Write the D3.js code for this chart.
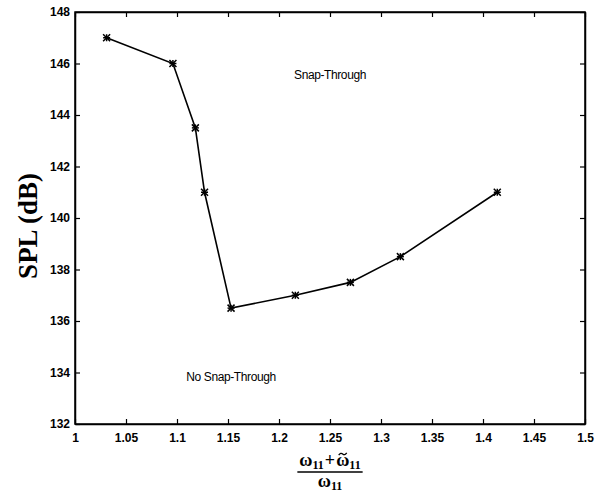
<!DOCTYPE html>
<html><head><meta charset="utf-8">
<script src="https://cdn.jsdelivr.net/npm/d3@7"></script>
<style>body{margin:0;background:#fff}svg{display:block}</style>
</head><body>
<script>
const freqRatio = [1.031, 1.096, 1.118, 1.127, 1.153, 1.216, 1.27, 1.319, 1.414];
const splDb = [147, 146, 143.5, 141, 136.5, 137, 137.5, 138.5, 141];
const xTicks = [1, 1.05, 1.1, 1.15, 1.2, 1.25, 1.3, 1.35, 1.4, 1.45, 1.5];
const yTicks = [132, 134, 136, 138, 140, 142, 144, 146, 148];
const regionLabels = [{t: "Snap-Through", x: 1.25, y: 145.4}, {t: "No Snap-Through", x: 1.153, y: 133.67}];

const W = 600, H = 492;
const m = {l: 75, t: 12, r: 585, b: 424};
const svg = d3.select("body").append("svg").attr("width", W).attr("height", H);
const x = d3.scaleLinear().domain([1, 1.5]).range([m.l, m.r]);
const y = d3.scaleLinear().domain([132, 148]).range([m.b, m.t]);
const fmt = d => String(d);
const tickFont = "bold 12px Arial, 'Liberation Sans', sans-serif";

svg.append("rect").attr("x", m.l).attr("y", m.t).attr("width", m.r - m.l).attr("height", m.b - m.t)
  .attr("fill", "none").attr("stroke", "#000").attr("stroke-width", 1.5);

const ax = [
  svg.append("g").attr("transform", `translate(0,${m.b})`).call(d3.axisBottom(x).tickValues(xTicks).tickFormat(fmt).tickSizeInner(-5).tickSizeOuter(0).tickPadding(9)),
  svg.append("g").attr("transform", `translate(${m.l},0)`).call(d3.axisLeft(y).tickValues(yTicks).tickFormat(fmt).tickSizeInner(-5).tickSizeOuter(0).tickPadding(5)),
  svg.append("g").attr("transform", `translate(0,${m.t})`).call(d3.axisTop(x).tickValues(xTicks).tickFormat("").tickSizeInner(-5).tickSizeOuter(0)),
  svg.append("g").attr("transform", `translate(${m.r},0)`).call(d3.axisRight(y).tickValues(yTicks).tickFormat("").tickSizeInner(-5).tickSizeOuter(0))
];
ax.forEach(g => {
  g.select(".domain").attr("stroke", "#000").attr("stroke-width", 1.5);
  g.selectAll(".tick line").attr("stroke", "#000").attr("stroke-width", 1.2);
  g.selectAll("text").style("font", tickFont).attr("fill", "#000");
});

const pts = freqRatio.map((v, i) => [v, splDb[i]]);
svg.append("path").datum(pts)
  .attr("d", d3.line().x(d => x(d[0])).y(d => y(d[1])))
  .attr("fill", "none").attr("stroke", "#000").attr("stroke-width", 1.6);

const star = svg.append("g").selectAll("g").data(pts).join("g")
  .attr("transform", d => `translate(${x(d[0])},${y(d[1])})`);
const s = 3.5;
[[-s, -s, s, s], [-s, s, s, -s], [-s, 0, s, 0], [0, -s, 0, s]].forEach(c => {
  star.append("line").attr("x1", c[0]).attr("y1", c[1]).attr("x2", c[2]).attr("y2", c[3])
    .attr("stroke", "#000").attr("stroke-width", 1.5);
});

svg.selectAll(".rl").data(regionLabels).join("text").attr("class", "rl")
  .attr("x", d => x(d.x)).attr("y", d => y(d.y)).attr("text-anchor", "middle")
  .style("font", "12px Arial, 'Liberation Sans', sans-serif").style("letter-spacing", "-0.4px")
  .text(d => d.t);

svg.append("text").attr("transform", `translate(37,${(m.t + m.b) / 2 + 8}) rotate(-90)`)
  .attr("text-anchor", "middle")
  .style("font", "bold 27px 'Liberation Serif', 'DejaVu Serif', serif")
  .text("SPL (dB)");

// x label fraction, laid out piece by piece
const cx = x(1.25);
const serif = "'Liberation Serif', 'DejaVu Serif', serif";
function row(parts, baseY) {
  const g = svg.append("g");
  let pos = 0;
  const items = parts.map(p => {
    const t = g.append("text").attr("y", baseY + (p.sub ? 3 : 0))
      .style("font", `bold ${p.sub ? 12 : 18}px ${serif}`).text(p.t);
    const w = t.node().getComputedTextLength();
    t.attr("x", pos);
    const it = {x: pos, w, tilde: p.tilde};
    pos += w + (p.gap || 0);
    return it;
  });
  g.attr("transform", `translate(${cx - pos / 2},0)`);
  items.filter(d => d.tilde).forEach(d => {
    const mx = d.x + d.w / 2, my = baseY - 12;
    g.append("path")
      .attr("d", `M${mx - 4},${my + 1.2} Q${mx - 2},${my - 1.8} ${mx},${my} T${mx + 4},${my - 1.2}`)
      .attr("fill", "none").attr("stroke", "#000").attr("stroke-width", 1.3);
  });
  return pos;
}
const nw = row([{t: "ω"}, {t: "11", sub: true, gap: 1}, {t: "+", gap: 1}, {t: "ω", tilde: true}, {t: "11", sub: true}], 466);
svg.append("line").attr("x1", cx - nw / 2 - 2).attr("x2", cx + nw / 2 + 2).attr("y1", 472).attr("y2", 472)
  .attr("stroke", "#000").attr("stroke-width", 1.6);
row([{t: "ω"}, {t: "11", sub: true}], 487);
</script>
</body></html>
